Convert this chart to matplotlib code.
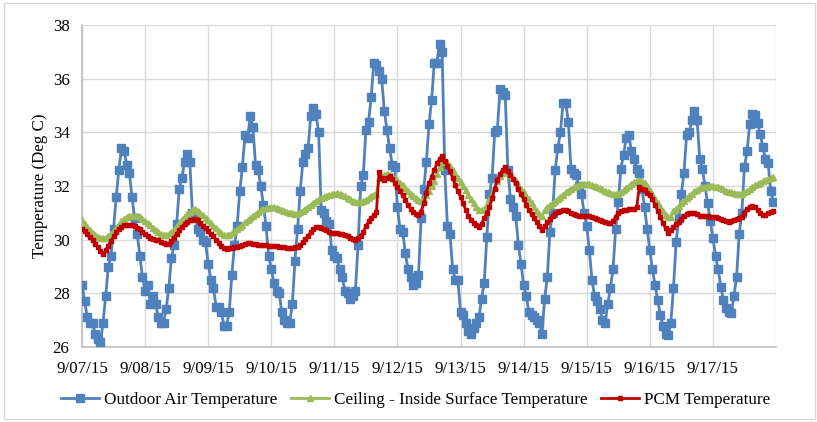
import matplotlib

matplotlib.use("Agg")
import matplotlib.pyplot as plt
import numpy as np
from matplotlib.patches import Rectangle

# hourly readings, 9/07/15 00:00 to 9/17/15 23:00 (one row per day)
OUTDOOR = [
    28.3, 27.7, 27.1, 26.9, 26.9, 26.5, 26.3, 26.2, 26.9, 27.9, 29.0, 29.4, 30.4, 31.6, 32.6, 33.4, 33.3, 32.8, 32.5, 31.6, 30.8, 30.2, 29.4, 28.6,
    28.1, 28.3, 27.6, 27.9, 27.6, 27.1, 26.9, 26.9, 27.4, 28.2, 29.3, 29.8, 30.6, 31.9, 32.3, 32.9, 33.2, 32.9, 31.0, 30.9, 30.4, 30.3, 30.0, 29.9,
    29.1, 28.5, 28.2, 27.5, 27.5, 27.3, 26.8, 26.8, 27.3, 28.7, 29.8, 30.5, 31.8, 32.7, 33.9, 33.8, 34.6, 34.2, 32.8, 32.6, 32.0, 31.3, 30.5, 29.4,
    28.9, 28.4, 28.1, 28.0, 27.3, 27.0, 26.9, 26.9, 27.6, 29.2, 30.4, 31.8, 32.9, 33.2, 33.4, 34.6, 34.9, 34.7, 34.0, 31.1, 31.0, 30.7, 30.6, 29.6,
    29.4, 29.3, 28.9, 28.6, 28.1, 28.0, 27.8, 27.9, 28.1, 29.8, 32.0, 32.4, 34.1, 34.4, 35.3, 36.6, 36.5, 36.3, 36.0, 34.8, 34.1, 33.4, 32.8, 32.7,
    31.2, 30.4, 30.3, 29.5, 28.9, 28.6, 28.3, 28.4, 28.7, 30.8, 31.9, 32.9, 34.3, 35.2, 36.6, 36.6, 37.3, 37.0, 32.6, 30.5, 30.2, 28.9, 28.5, 28.5,
    27.3, 27.2, 26.9, 26.6, 26.5, 26.7, 26.9, 27.1, 27.8, 28.4, 30.1, 31.7, 32.3, 34.0, 34.1, 35.6, 35.5, 35.4, 32.6, 31.5, 31.2, 30.9, 29.8, 29.1,
    28.3, 27.9, 27.3, 27.2, 27.1, 27.0, 26.9, 26.5, 27.8, 28.6, 30.3, 31.0, 32.6, 33.4, 34.0, 35.1, 35.1, 34.4, 32.65, 32.5, 32.4, 32.0, 31.7, 31.0,
    30.5, 29.6, 28.5, 27.9, 27.7, 27.4, 27.0, 26.9, 27.6, 28.2, 28.9, 30.4, 31.4, 32.65, 33.15, 33.8, 33.9, 33.3, 33.0, 32.65, 32.5, 31.9, 31.2, 30.4,
    29.6, 28.9, 28.3, 27.75, 27.2, 26.8, 26.5, 26.45, 26.9, 28.2, 29.9, 30.8, 31.7, 32.5, 33.9, 34.0, 34.45, 34.8, 34.45, 33.0, 32.65, 32.0, 31.35, 30.7,
    30.05, 29.4, 28.9, 28.25, 27.75, 27.45, 27.3, 27.25, 27.9, 28.6, 30.2, 31.0, 32.7, 33.3, 34.3, 34.7, 34.65, 34.35, 33.95, 33.45, 33.0, 32.85, 31.8, 31.4,
]

CEILING = [
    30.72, 30.6, 30.48, 30.36, 30.25, 30.17, 30.1, 30.06, 30.05, 30.08, 30.14, 30.22, 30.32, 30.44, 30.56, 30.68, 30.77, 30.83, 30.87, 30.9, 30.9, 30.88, 30.84, 30.78,
    30.7, 30.62, 30.53, 30.44, 30.35, 30.27, 30.21, 30.17, 30.16, 30.2, 30.27, 30.37, 30.5, 30.62, 30.75, 30.86, 30.96, 31.04, 31.1, 31.13, 31.08, 31.0, 30.92, 30.82,
    30.72, 30.62, 30.52, 30.42, 30.32, 30.24, 30.19, 30.16, 30.18, 30.24, 30.32, 30.4, 30.48, 30.56, 30.64, 30.72, 30.8, 30.88, 30.96, 31.03, 31.09, 31.14, 31.17, 31.19,
    31.2, 31.2, 31.19, 31.16, 31.12, 31.07, 31.03, 31.0, 30.98, 30.97, 30.98, 31.02, 31.08, 31.15, 31.23, 31.3, 31.37, 31.44, 31.5, 31.55, 31.6, 31.64, 31.67, 31.7,
    31.72, 31.73, 31.72, 31.68, 31.62, 31.56, 31.5, 31.45, 31.42, 31.4, 31.4, 31.43, 31.48, 31.55, 31.62, 31.68, 31.72, 32.3, 32.35, 32.4, 32.45, 32.42, 32.38, 32.3,
    32.22, 32.12, 32.02, 31.92, 31.82, 31.72, 31.62, 31.54, 31.47, 31.45, 31.52, 31.65, 31.82, 32.0, 32.2, 32.45, 32.7, 32.88, 32.95, 32.88, 32.75, 32.6, 32.45, 32.3,
    32.15, 32.0, 31.85, 31.68, 31.52, 31.37, 31.23, 31.12, 31.09, 31.15, 31.3, 31.5, 31.72, 31.95, 32.18, 32.38, 32.5, 32.57, 32.52, 32.42, 32.3, 32.17, 32.03, 31.9,
    31.77, 31.64, 31.5, 31.36, 31.22, 31.08, 30.95, 30.9, 31.1, 31.2, 31.28, 31.36, 31.44, 31.52, 31.6, 31.68, 31.76, 31.83, 31.9, 31.96, 32.0, 32.04, 32.07, 32.08,
    32.08, 32.06, 32.03, 32.0, 31.96, 31.92, 31.87, 31.82, 31.77, 31.74, 31.71, 31.7, 31.72, 31.77, 31.84, 31.92, 32.0, 32.08, 32.14, 32.19, 32.22, 32.2, 32.12, 32.0,
    31.86, 31.7, 31.53, 31.36, 31.2, 31.05, 30.93, 30.86, 30.84, 31.05, 31.15, 31.25, 31.35, 31.45, 31.55, 31.64, 31.72, 31.8, 31.86, 31.91, 31.95, 31.98, 32.0, 32.0,
    32.0, 31.98, 31.95, 31.91, 31.87, 31.83, 31.79, 31.76, 31.73, 31.71, 31.7, 31.72, 31.76, 31.82, 31.88, 31.95, 32.02, 32.08, 32.13, 32.18, 32.22, 32.26, 32.29, 32.32,
]

PCM = [
    30.41, 30.32, 30.22, 30.1, 29.98, 29.85, 29.72, 29.58, 29.47, 29.6, 29.78, 29.95, 30.12, 30.28, 30.4, 30.48, 30.53, 30.55, 30.55, 30.53, 30.5, 30.45, 30.38, 30.3,
    30.22, 30.15, 30.08, 30.03, 30.0, 29.98, 29.92, 29.87, 29.84, 29.85, 29.95, 30.08, 30.22, 30.36, 30.48, 30.58, 30.66, 30.72, 30.75, 30.78, 30.72, 30.62, 30.52, 30.42,
    30.32, 30.22, 30.12, 30.0, 29.88, 29.76, 29.68, 29.67, 29.68, 29.7, 29.72, 29.74, 29.77, 29.8, 29.83, 29.86, 29.86, 29.85, 29.83, 29.81, 29.8, 29.8, 29.79, 29.78,
    29.77, 29.76, 29.75, 29.74, 29.73, 29.71, 29.69, 29.68, 29.7, 29.72, 29.74, 29.8, 29.9, 30.02, 30.15, 30.28, 30.4, 30.48, 30.46, 30.42, 30.38, 30.35, 30.3, 30.26,
    30.24, 30.23, 30.22, 30.2, 30.17, 30.12, 30.06, 30.02, 30.0, 30.05, 30.15, 30.3, 30.5, 30.68, 30.8, 30.92, 31.04, 32.53, 32.3, 32.22, 32.3, 32.38, 32.25, 32.1,
    31.97, 31.8, 31.65, 31.47, 31.3, 31.15, 31.02, 30.95, 30.92, 31.04, 31.35, 31.75, 32.1, 32.35, 32.6, 32.84, 33.0, 33.12, 32.95, 32.75, 32.55, 32.3, 32.05, 31.8,
    31.6, 31.35, 31.1, 30.9, 30.74, 30.62, 30.53, 30.49, 30.6, 30.8, 31.0, 31.22, 31.55, 31.9, 32.22, 32.45, 32.6, 32.72, 32.55, 32.4, 32.25, 32.1, 31.9, 31.7,
    31.5, 31.3, 31.1, 30.95, 30.8, 30.65, 30.5, 30.36, 30.5, 30.65, 30.78, 30.9, 30.98, 31.03, 31.08, 31.1, 31.1, 31.05, 31.0, 30.95, 30.92, 30.9, 30.89, 30.88,
    30.88, 30.87, 30.86, 30.82, 30.78, 30.74, 30.7, 30.65, 30.62, 30.61, 30.7, 30.85, 30.98, 31.06, 31.1, 31.12, 31.13, 31.15, 31.16, 31.2, 31.97, 31.9, 31.85, 31.75,
    31.65, 31.5, 31.3, 31.08, 30.85, 30.62, 30.42, 30.24, 30.35, 30.48, 30.58, 30.67, 30.78, 30.88, 30.95, 30.98, 30.99, 30.98, 30.94, 30.9, 30.9, 30.89, 30.88, 30.86,
    30.85, 30.83, 30.8, 30.76, 30.72, 30.69, 30.67, 30.68, 30.72, 30.77, 30.82, 30.86, 31.0, 31.15, 31.22, 31.25, 31.2, 31.1, 31.0, 30.93, 30.92, 30.98, 31.04, 31.08,
]

DAY_LABELS = ["9/07/15", "9/08/15", "9/09/15", "9/10/15", "9/11/15", "9/12/15",
              "9/13/15", "9/14/15", "9/15/15", "9/16/15", "9/17/15", ""]

plt.rcParams["font.family"] = ["Liberation Serif", "DejaVu Serif"]

fig = plt.figure(figsize=(8.17, 4.22), dpi=100)
fig.patches.append(Rectangle((0.005, 0.008), 0.992, 0.984, transform=fig.transFigure,
                             fill=False, edgecolor="#d9d9d9", lw=1.0))
ax = fig.add_axes([0.1004, 0.1777, 0.8494, 0.7631])

hours = np.arange(len(OUTDOOR))
ax.plot(hours, OUTDOOR, color="#4F81BD", lw=2, marker="s", ms=5.5,
        label="Outdoor Air Temperature", zorder=3)
ax.plot(hours, CEILING, color="#9BBB59", lw=2, marker="^", ms=4.5,
        label="Ceiling - Inside Surface Temperature", zorder=4)
ax.plot(hours, PCM, color="#C00000", lw=2, marker="s", ms=3,
        label="PCM Temperature", zorder=5)

ax.set_xlim(0, 264)
ax.set_ylim(26, 38)
ax.set_xticks(np.arange(0, 265, 24))
ax.set_xticklabels(DAY_LABELS)
ax.set_yticks(np.arange(26, 39, 2))
ax.tick_params(length=0, labelsize=12.2)
ax.tick_params(axis="x", pad=10)
ax.tick_params(axis="y", pad=9)
ax.grid(True, color="#d9d9d9", lw=1)
ax.set_axisbelow(True)
for side in ["top", "right"]:
    ax.spines[side].set_visible(False)
for side in ["left", "bottom"]:
    ax.spines[side].set_color("#bfbfbf")
    ax.spines[side].set_linewidth(1.2)
ax.set_ylabel("Temperature (Deg C)", fontsize=12.2, labelpad=3)

fig.legend(loc="center", bbox_to_anchor=(0.509, 0.052), ncol=3, frameon=False,
           fontsize=12.3, handlelength=2.2, columnspacing=0.8, handletextpad=0.3)

fig.savefig("out.png", dpi=100)
